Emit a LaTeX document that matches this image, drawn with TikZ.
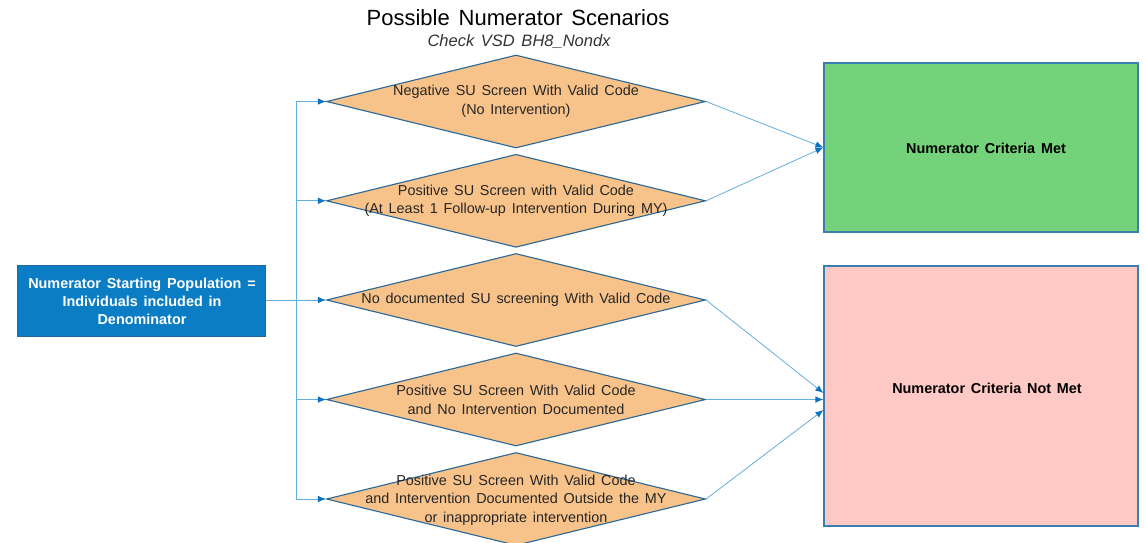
\documentclass[tikz,border=0pt]{standalone}
\usepackage{fontspec}
\setmainfont{Liberation Sans}[WordSpace=1.45]
\usetikzlibrary{shapes.geometric,arrows.meta}
\definecolor{diafill}{HTML}{F8C38A}
\definecolor{diadraw}{HTML}{2A6696}
\definecolor{startfill}{HTML}{0A7DC4}
\definecolor{startdraw}{HTML}{2366A0}
\definecolor{metfill}{HTML}{73D27A}
\definecolor{notmetfill}{HTML}{FFC9C5}
\definecolor{boxdraw}{HTML}{3A7DB0}
\definecolor{linec}{HTML}{62AEE0}
\definecolor{tipc}{HTML}{0A72C0}
\tikzset{
  dia/.style={diamond, draw=diadraw, fill=diafill, line width=1.1pt, inner sep=0pt,
    minimum width=379pt, minimum height=93pt, aspect=4.07},
  diatxt/.style={align=center, font=\fontsize{14.4}{18.5}\selectfont, text=black!85},
  startbox/.style={rectangle, draw=startdraw, fill=startfill, line width=1pt,
    minimum width=248pt, minimum height=71pt, inner sep=0pt},
  resbox/.style={rectangle, draw=boxdraw, line width=1.2pt, minimum width=314pt, inner sep=0pt},
  boldtxt/.style={align=center, font=\fontsize{14.4}{18}\selectfont\bfseries},
  trunk/.style={draw=linec, line width=0.8pt},
  conn/.style={draw=linec, line width=0.8pt, -{Latex[length=8pt,width=6.5pt,color=tipc]}}
}
\begin{document}
\begin{tikzpicture}[x=1pt,y=-1pt]
\useasboundingbox (0,0) rectangle (1145,542);
\clip (0,0) rectangle (1145,542);
% title
\node[font=\fontsize{22}{26}\selectfont] (title) at (518,18) {Possible Numerator Scenarios};
\node[font=\fontsize{16.5}{19}\selectfont\itshape, text=black!80] (sub) at (519,42) {Check VSD BH8\_Nondx};
% start box
\node[startbox] (start) at (141.5,300.5) {};
\node[boldtxt, text=white] (starttxt) at (142,301) {Numerator Starting Population =\\Individuals included in\\Denominator};
% diamonds
\node[dia] (d1) at (516,101.5) {};
\node[dia] (d2) at (516,200.8) {};
\node[dia] (d3) at (516,300) {};
\node[dia] (d4) at (516,399.5) {};
\node[dia] (d5) at (516,499) {};
\node[diatxt] (t1) at (516,101.5) {Negative SU Screen With Valid Code\\(No Intervention)};
\node[diatxt] (t2) at (516,200.8) {Positive SU Screen with Valid Code\\(At Least 1 Follow-up Intervention During MY)};
\node[diatxt] (t3) at (516,300) {No documented SU screening With Valid Code};
\node[diatxt] (t4) at (516,400) {Positive SU Screen With Valid Code\\and No Intervention Documented};
\node[diatxt] (t5) at (516,500) {Positive SU Screen With Valid Code\\and Intervention Documented Outside the MY\\or inappropriate intervention};
% result boxes
\node[resbox, fill=metfill, minimum height=169pt] (met) at (981,147.5) {};
\node[boldtxt] (mettxt) at (986,148) {Numerator Criteria Met};
\node[resbox, fill=notmetfill, minimum height=260pt] (notmet) at (981,396) {};
\node[boldtxt] (notmettxt) at (987,388) {Numerator Criteria Not Met};
% trunk
\coordinate (vx) at (296,0);
\draw[trunk] (start.east) -- (vx |- start.east);
\draw[trunk] (vx |- d1.west) -- (vx |- d5.west);
\foreach \d in {d1,d2,d3,d4,d5}{
  \draw[conn] (vx |- \d.west) -- (\d.west);
}
% to results
\draw[conn] (d1.east) -- (met.west);
\draw[conn] (d2.east) -- (met.west);
\draw[conn] (d3.east) -- ([yshift=3pt]notmet.west);
\draw[conn] (d4.east) -- (d4.east -| notmet.west);
\draw[conn] (d5.east) -- ([yshift=-14pt]notmet.west);
\end{tikzpicture}
\end{document}
